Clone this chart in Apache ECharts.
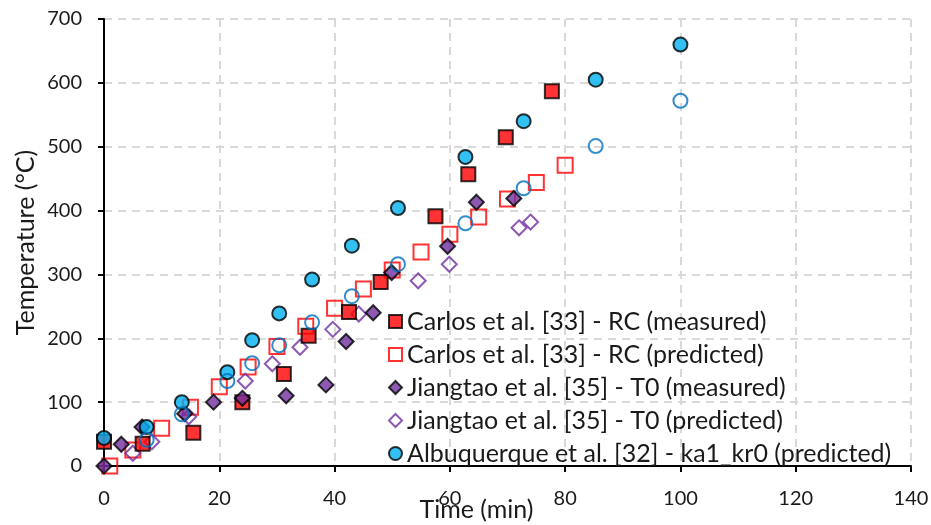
<!DOCTYPE html>
<html>
<head>
<meta charset="utf-8">
<script src="https://cdn.jsdelivr.net/npm/echarts@6/dist/echarts.min.js"></script>
<style>
  html, body { margin: 0; padding: 0; background: #fff; }
  #chart { width: 931px; height: 525px; }
</style>
</head>
<body>
<div id="chart"></div>
<script>
// Carlos et al. [33] - RC
const carlosMeasTime = [0, 6.7, 15.5, 24, 31.2, 35.5, 42.5, 48, 57.5, 63.2, 69.7, 77.7]
const carlosMeasTemp = [38, 35, 52, 100, 144, 204, 241, 288, 391, 457, 515, 587]
const carlosPredTime = [1, 5, 10, 15, 20, 25, 30, 35, 40, 45, 50, 55, 60, 65, 70, 75, 80]
const carlosPredTemp = [0, 25, 59, 92, 124, 155, 187, 219, 247, 277, 307, 335, 363, 390, 418, 444, 471]
// Jiangtao et al. [35] - T0
const jiangMeasTime = [0, 3, 6.6, 14, 19, 24, 31.6, 38.5, 42, 46.7, 49.9, 59.6, 64.6, 71.1]
const jiangMeasTemp = [0, 34, 61, 82, 100, 106, 110, 127, 195, 240, 303, 344, 413, 419]
const jiangPredTime = [5, 8.3, 14.7, 24.5, 29.2, 34, 39.7, 44.2, 54.5, 59.9, 72, 74]
const jiangPredTemp = [20, 38, 77, 133, 160, 186, 214, 238, 290, 316, 373, 382]
// Albuquerque et al. [32]
const albuTime = [0, 7.4, 13.5, 21.4, 25.7, 30.4, 36.1, 43, 51, 62.7, 72.8, 85.3, 100]
const albuFilledTemp = [44, 61, 100, 147, 197, 239, 292, 345, 404, 484, 540, 605, 660]
const albuOpenTime = [7.4, 13.5, 21.4, 25.7, 30.4, 36.1, 43, 51, 62.7, 72.8, 85.3, 100]
const albuOpenTemp = [41, 81, 133, 161, 189, 225, 266, 316, 380, 435, 501, 572]

const xTicks = { min: 0, max: 140, interval: 20 }
const yTicks = { min: 0, max: 700, interval: 100 }

const legendNames = [
  'Carlos et al. [33] - RC (measured)',
  'Carlos et al. [33] - RC (predicted)',
  'Jiangtao et al. [35] - T0 (measured)',
  'Jiangtao et al. [35] - T0 (predicted)',
  'Albuquerque et al. [32] - ka1_kr0 (predicted)'
]

const zip = (xs, ys) => xs.map((x, i) => [x, ys[i]])
const FONT = 'Lato'

const chart = echarts.init(document.getElementById('chart'))

const axisCommon = {
  type: 'value',
  axisLine: { show: true, lineStyle: { color: '#000', width: 2 } },
  axisTick: { show: true, inside: false, length: 6, lineStyle: { color: '#000', width: 2 } },
  axisLabel: { color: '#1a1a1a', fontSize: 20, fontFamily: FONT },
  splitLine: { show: true, lineStyle: { color: '#d9d9d9', width: 2, type: [8, 6] } },
  nameLocation: 'middle',
  nameMoveOverlap: false,
  nameTextStyle: { color: '#1a1a1a', fontSize: 25, fontFamily: FONT }
}

const option = {
  backgroundColor: '#fff',
  animation: false,
  grid: { left: 104, right: 20, top: 19, bottom: 59, containLabel: false, outerBoundsMode: 'none' },
  xAxis: Object.assign({}, axisCommon, xTicks, {
    name: 'Time (min)',
    nameGap: 31,
    nameTextStyle: Object.assign({}, axisCommon.nameTextStyle, { padding: [0, 62, 0, 0] }),
    axisLabel: Object.assign({}, axisCommon.axisLabel, { margin: 23 })
  }),
  yAxis: Object.assign({}, axisCommon, yTicks, {
    name: 'Temperature (°C)',
    nameGap: 66,
    axisLabel: Object.assign({}, axisCommon.axisLabel, { margin: 22 })
  }),
  legend: {
    data: legendNames,
    orient: 'vertical',
    left: 388,
    top: 309,
    padding: 0,
    itemGap: 8,
    itemWidth: 13,
    itemHeight: 13,
    textStyle: { color: '#1a1a1a', fontSize: 25, fontFamily: FONT },
    z: 10
  },
  series: [
    {
      name: legendNames[1], type: 'scatter', symbol: 'rect', symbolSize: 15,
      itemStyle: { color: 'rgba(0,0,0,0)', borderColor: '#ff0000', borderWidth: 2 },
      data: zip(carlosPredTime, carlosPredTemp)
    },
    {
      name: legendNames[3], type: 'scatter', symbol: 'diamond', symbolSize: 15,
      itemStyle: { color: 'rgba(0,0,0,0)', borderColor: '#7030a0', borderWidth: 2 },
      data: zip(jiangPredTime, jiangPredTemp)
    },
    {
      name: legendNames[0], type: 'scatter', symbol: 'rect', symbolSize: 14,
      itemStyle: { color: '#ff0000', borderColor: '#000', borderWidth: 2 },
      data: zip(carlosMeasTime, carlosMeasTemp)
    },
    {
      name: legendNames[2], type: 'scatter', symbol: 'diamond', symbolSize: 15,
      itemStyle: { color: '#7030a0', borderColor: '#000', borderWidth: 2 },
      data: zip(jiangMeasTime, jiangMeasTemp)
    },
    {
      name: legendNames[4], type: 'scatter', symbol: 'circle', symbolSize: 14,
      itemStyle: { color: '#00b0f0', borderColor: '#000', borderWidth: 2 },
      data: zip(albuTime, albuFilledTemp)
    },
    {
      name: 'Albuquerque et al. [32] (open)', type: 'scatter', symbol: 'circle', symbolSize: 14,
      itemStyle: { color: 'rgba(0,0,0,0)', borderColor: '#0070c0', borderWidth: 2 },
      data: zip(albuOpenTime, albuOpenTemp)
    }
  ]
}

chart.setOption(option)
</script>
</body>
</html>
